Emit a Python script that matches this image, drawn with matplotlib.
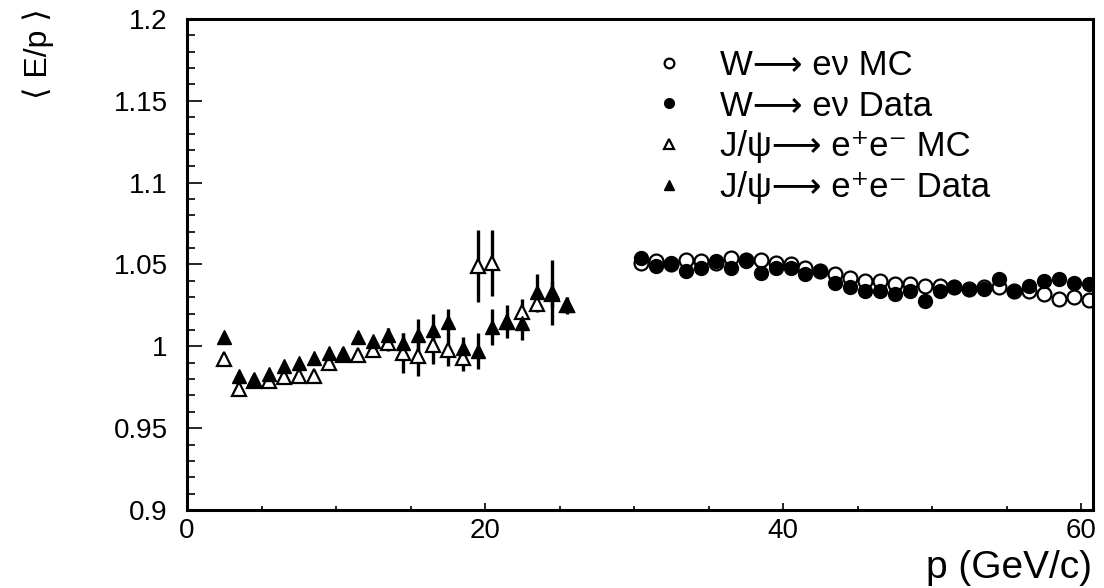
import matplotlib
matplotlib.use("Agg")
import matplotlib.pyplot as plt
from matplotlib.ticker import MultipleLocator, FuncFormatter

plt.rcParams['font.family'] = ['Liberation Sans', 'DejaVu Sans']

# J/psi -> ee, 1 GeV bins
jpsi_p = [2.5, 3.5, 4.5, 5.5, 6.5, 7.5, 8.5, 9.5, 10.5, 11.5, 12.5, 13.5,
          14.5, 15.5, 16.5, 17.5, 18.5, 19.5, 20.5, 21.5, 22.5, 23.5, 24.5, 25.5]
jpsi_mc = [0.992, 0.974, 0.979, 0.979, 0.981, 0.982, 0.982, 0.990, 0.995, 0.995, 0.998, 1.002,
           0.996, 0.994, 1.001, 0.998, 0.993, 1.049, 1.051, 1.015, 1.021, 1.026, 1.032, 1.025]
jpsi_mc_err = [0.001, 0.001, 0.001, 0.001, 0.001, 0.001, 0.001, 0.001, 0.001, 0.002, 0.004, 0.005,
               0.012, 0.012, 0.012, 0.010, 0.008, 0.022, 0.020, 0.005, 0.008, 0.005, 0.008, 0.003]
jpsi_data = [1.006, 0.982, 0.980, 0.983, 0.988, 0.990, 0.993, 0.996, 0.996, 1.006, 1.003, 1.007,
             1.002, 1.007, 1.010, 1.015, 0.999, 0.997, 1.012, 1.015, 1.014, 1.033, 1.033, 1.025]
jpsi_data_err = [0.001, 0.001, 0.001, 0.001, 0.001, 0.001, 0.001, 0.001, 0.001, 0.001, 0.003, 0.004,
                 0.006, 0.010, 0.010, 0.008, 0.007, 0.011, 0.011, 0.010, 0.010, 0.011, 0.020, 0.005]

# W -> e nu
w_p = [30.5, 31.5, 32.5, 33.5, 34.5, 35.5, 36.5, 37.5, 38.5, 39.5, 40.5, 41.5, 42.5, 43.5, 44.5,
       45.5, 46.5, 47.5, 48.5, 49.5, 50.5, 51.5, 52.5, 53.5, 54.5, 55.5, 56.5, 57.5, 58.5, 59.5, 60.5]
w_mc = [1.051, 1.052, 1.0505, 1.0525, 1.052, 1.051, 1.054, 1.053, 1.053, 1.051, 1.050, 1.048, 1.046,
        1.044, 1.042, 1.040, 1.040, 1.038, 1.038, 1.037, 1.037, 1.036, 1.035, 1.036, 1.036, 1.034,
        1.034, 1.032, 1.029, 1.030, 1.0285]
w_data = [1.054, 1.049, 1.051, 1.046, 1.048, 1.052, 1.048, 1.052, 1.045, 1.048, 1.048, 1.044, 1.046,
          1.039, 1.036, 1.034, 1.034, 1.032, 1.034, 1.028, 1.034, 1.036, 1.035, 1.035, 1.041, 1.034,
          1.037, 1.040, 1.041, 1.039, 1.038]

labels = ["W\u27f6 e\u03bd MC", "W\u27f6 e\u03bd Data",
          "J/\u03c8\u27f6 e\u207ae\u207b MC", "J/\u03c8\u27f6 e\u207ae\u207b Data"]

fig = plt.figure(figsize=(11.04, 5.88), dpi=100)
ax = fig.add_axes([187 / 1104, 1 - 510 / 588, 906 / 1104, 491 / 588])

# error bars
ax.errorbar(jpsi_p, jpsi_mc, yerr=jpsi_mc_err, fmt='none', ecolor='black', elinewidth=2.4, capsize=0, zorder=2)
ax.errorbar(jpsi_p, jpsi_data, yerr=jpsi_data_err, fmt='none', ecolor='black', elinewidth=2.4, capsize=0, zorder=2)

h1, = ax.plot(w_p, w_mc, 'o', ms=10, mfc='none', mec='black', mew=1.6, label=labels[0], zorder=3)
h2, = ax.plot(w_p, w_data, 'o', ms=10, mfc='black', mec='black', label=labels[1], zorder=4)
h3, = ax.plot(jpsi_p, jpsi_mc, '^', ms=10, mfc='white', mec='black', mew=1.6, label=labels[2], zorder=3)
h4, = ax.plot(jpsi_p, jpsi_data, '^', ms=10, mfc='black', mec='black', label=labels[3], zorder=4)

ax.set_xlim(0, 60.8)
ax.set_ylim(0.9, 1.2)

ax.xaxis.set_major_locator(MultipleLocator(20))
ax.xaxis.set_minor_locator(MultipleLocator(5))
ax.yaxis.set_major_locator(MultipleLocator(0.05))
ax.yaxis.set_minor_locator(MultipleLocator(0.01))
ax.yaxis.set_major_formatter(FuncFormatter(lambda v, p: "%g" % round(v, 2)))

ax.tick_params(axis='both', which='both', direction='in', labelsize=20, width=1.2)
ax.tick_params(axis='x', which='major', length=5, pad=6)
ax.tick_params(axis='x', which='minor', length=3)
ax.tick_params(axis='y', which='major', length=11, pad=14)
ax.tick_params(axis='y', which='minor', length=6)
for s in ax.spines.values():
    s.set_linewidth(2.2)

ax.legend(handles=[h1, h2, h3, h4], loc='upper left', bbox_to_anchor=((652 - 187) / 906, 1 - (49 - 19) / 491),
          frameon=False, fontsize=25, markerscale=0.7, handlelength=1.0, handletextpad=0.95,
          labelspacing=0.22, borderpad=0, borderaxespad=0)

fig.text(1092 / 1104, 1 - 586 / 588, "p (GeV/c)", ha='right', va='bottom', fontsize=28)
fig.text(38 / 1104, 1 - 8 / 588, "\u27e8 E/p \u27e9", ha='center', va='top', rotation=90, fontsize=23)

fig.savefig("out.png", dpi=100)
